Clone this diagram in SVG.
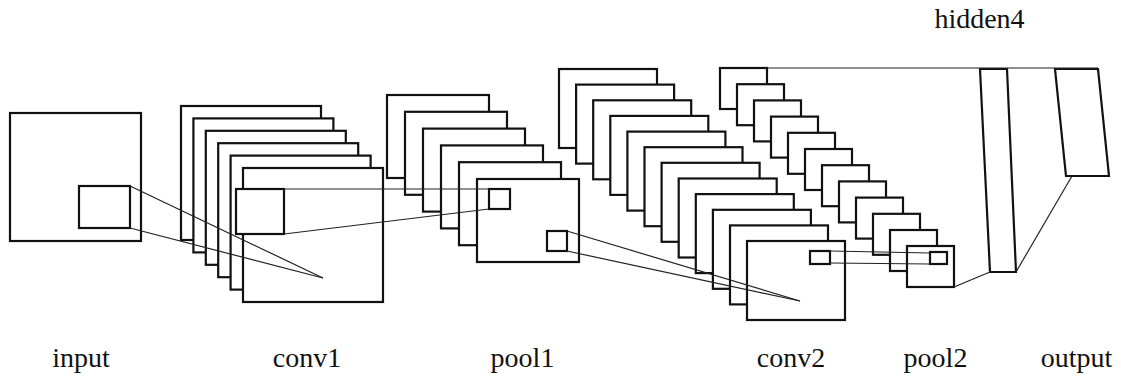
<svg xmlns="http://www.w3.org/2000/svg" width="1121" height="376" viewBox="0 0 1121 376">
  <style>
    .box { fill: #ffffff; stroke: #111111; stroke-width: 2.2; }
    .open { fill: none; stroke: #111111; stroke-width: 2.2; stroke-linejoin: miter; }
    .link { fill: none; stroke: #222222; stroke-width: 1.2; }
    .label { font-family: "Liberation Serif", "Times New Roman", serif; font-size: 28px; fill: #111111; text-anchor: middle; }
  </style>
  <rect width="1121" height="376" fill="#ffffff"/>

  <!-- input image with its receptive field -->
  <g id="input">
    <rect class="box" x="10" y="113" width="131" height="128"/>
    <rect class="box" x="79" y="186" width="51" height="42"/>
  </g>

  <!-- conv1: six feature maps, stacked back to front -->
  <g id="conv1">
    <rect class="box" x="181" y="106" width="140" height="134"/>
    <rect class="box" x="193.4" y="118.4" width="140" height="134"/>
    <rect class="box" x="205.8" y="130.8" width="140" height="134"/>
    <rect class="box" x="218.2" y="143.2" width="140" height="134"/>
    <rect class="box" x="230.6" y="155.6" width="140" height="134"/>
    <rect class="box" x="243" y="168" width="140" height="134"/>
    <rect class="box" x="236" y="189" width="48" height="45"/>
  </g>

  <!-- pool1: six pooled maps -->
  <g id="pool1">
    <rect class="box" x="387" y="95" width="102" height="83"/>
    <rect class="box" x="405" y="111.8" width="102" height="83"/>
    <rect class="box" x="423" y="128.6" width="102" height="83"/>
    <rect class="box" x="441" y="145.4" width="102" height="83"/>
    <rect class="box" x="459" y="162.2" width="102" height="83"/>
    <rect class="box" x="477" y="179" width="102" height="83"/>
    <rect class="box" x="489" y="189" width="21" height="20"/>
    <rect class="box" x="547" y="231" width="20" height="20"/>
  </g>

  <!-- conv2: twelve feature maps -->
  <g id="conv2">
    <rect class="box" x="559" y="69" width="98" height="79"/>
    <rect class="box" x="576.1" y="84.6" width="98" height="79"/>
    <rect class="box" x="593.2" y="100.3" width="98" height="79"/>
    <rect class="box" x="610.3" y="115.9" width="98" height="79"/>
    <rect class="box" x="627.4" y="131.6" width="98" height="79"/>
    <rect class="box" x="644.5" y="147.2" width="98" height="79"/>
    <rect class="box" x="661.6" y="162.8" width="98" height="79"/>
    <rect class="box" x="678.7" y="178.5" width="98" height="79"/>
    <rect class="box" x="695.8" y="194.1" width="98" height="79"/>
    <rect class="box" x="712.9" y="209.8" width="98" height="79"/>
    <rect class="box" x="730" y="225.4" width="98" height="79"/>
    <rect class="box" x="747" y="241" width="98" height="79"/>
    <rect class="box" x="810" y="251" width="20" height="13"/>
  </g>

  <!-- pool2: twelve pooled maps -->
  <g id="pool2">
    <rect class="box" x="720" y="68" width="47" height="41"/>
    <rect class="box" x="737" y="84.2" width="47" height="41"/>
    <rect class="box" x="754" y="100.4" width="47" height="41"/>
    <rect class="box" x="771" y="116.6" width="47" height="41"/>
    <rect class="box" x="788" y="132.8" width="47" height="41"/>
    <rect class="box" x="805" y="149" width="47" height="41"/>
    <rect class="box" x="822" y="165.2" width="47" height="41"/>
    <rect class="box" x="839" y="181.4" width="47" height="41"/>
    <rect class="box" x="856" y="197.6" width="47" height="41"/>
    <rect class="box" x="873" y="213.8" width="47" height="41"/>
    <rect class="box" x="890" y="230" width="47" height="41"/>
    <rect class="box" x="907" y="246" width="47" height="41"/>
    <rect class="box" x="930" y="252" width="17" height="12"/>
  </g>

  <!-- fully connected hidden layer -->
  <g id="hidden4">
    <polygon class="open" points="980,69 1007,69 1016,272 990,272"/>
  </g>

  <!-- output layer -->
  <g id="output">
    <polygon class="open" points="1055,69 1098,69 1109,176 1066,176"/>
  </g>

  <!-- receptive-field projections and layer links -->
  <g id="connectors">
    <line class="link" x1="130" y1="186" x2="323" y2="278"/>
    <line class="link" x1="130" y1="228" x2="323" y2="278"/>
    <line class="link" x1="284" y1="189" x2="489" y2="189"/>
    <line class="link" x1="284" y1="234" x2="489" y2="209"/>
    <line class="link" x1="567" y1="231" x2="800" y2="301"/>
    <line class="link" x1="567" y1="251" x2="800" y2="301"/>
    <line class="link" x1="830" y1="251" x2="930" y2="253"/>
    <line class="link" x1="830" y1="263" x2="930" y2="264"/>
    <line class="link" x1="767" y1="68" x2="1098" y2="68"/>
    <line class="link" x1="954" y1="287" x2="990" y2="272"/>
    <line class="link" x1="1016" y1="272" x2="1072" y2="176"/>
  </g>

  <g id="labels">
    <text class="label" x="81" y="367">input</text>
    <text class="label" x="307" y="367">conv1</text>
    <text class="label" x="522.5" y="367">pool1</text>
    <text class="label" x="791" y="367">conv2</text>
    <text class="label" x="935.5" y="367">pool2</text>
    <text class="label" x="1076.5" y="367">output</text>
    <text class="label" x="979.5" y="28">hidden4</text>
  </g>
</svg>
